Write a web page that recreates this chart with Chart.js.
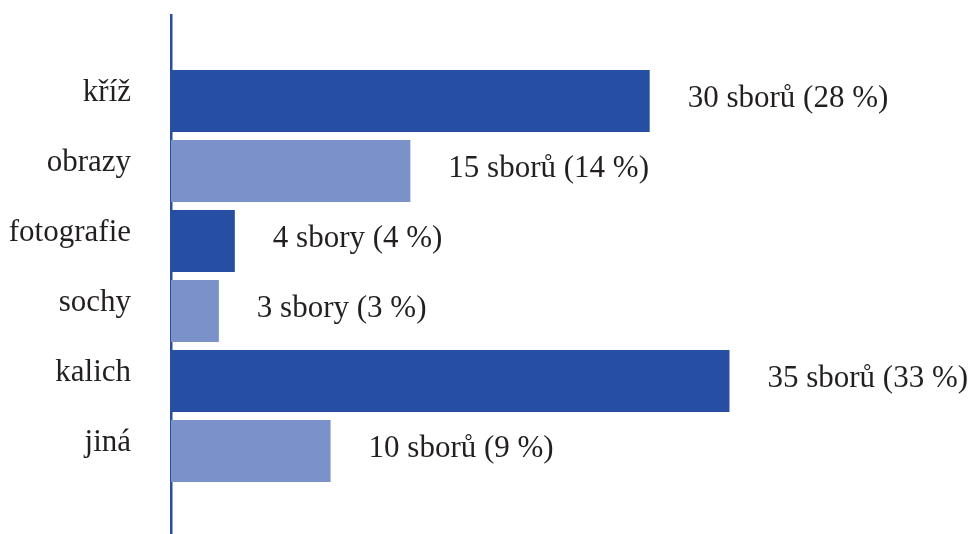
<!DOCTYPE html>
<html><head><meta charset="utf-8">
<script src="https://cdn.jsdelivr.net/npm/chart.js@4/dist/chart.umd.min.js"></script>
<style>html,body{margin:0;padding:0;background:#fff}#wrap{position:relative;width:972px;height:534px}</style>
</head><body><div id="wrap"><canvas id="c"></canvas></div>
<script>
const categories = ['kříž', 'obrazy', 'fotografie', 'sochy', 'kalich', 'jiná'];
const counts = [30, 15, 4, 3, 35, 10];
const valueLabels = ['30 sborů (28 %)', '15 sborů (14 %)', '4 sbory (4 %)', '3 sbory (3 %)', '35 sborů (33 %)', '10 sborů (9 %)'];
const colors = ['#264ea2', '#7a91c9', '#264ea2', '#7a91c9', '#264ea2', '#7a91c9'];

const FONT = '"Liberation Serif", "DejaVu Serif", serif';
const FS = 31;
const TXT = '#231f20';

const labelPlugin = {
  id: 'valueLabels',
  afterDatasetsDraw(chart) {
    const ctx = chart.ctx;
    const meta = chart.getDatasetMeta(0);
    ctx.save();
    ctx.font = FS + 'px ' + FONT;
    ctx.fillStyle = TXT;
    ctx.textAlign = 'left';
    ctx.textBaseline = 'alphabetic';
    meta.data.forEach((bar, i) => {
      ctx.fillText(valueLabels[i], bar.x + 38, bar.y + 6);
    });
    ctx.restore();
  }
};

new Chart(document.getElementById('c'), {
  type: 'bar',
  data: {
    datasets: [{
      data: counts.map((v, i) => ({x: v, y: i})),
      backgroundColor: colors,
      borderWidth: 0,
      barPercentage: 62/70,
      categoryPercentage: 1
    }]
  },
  options: {
    indexAxis: 'y',
    responsive: true,
    maintainAspectRatio: false,
    animation: false,
    layout: {padding: {top: 15, bottom: 0, left: 0, right: 0}},
    plugins: {legend: {display: false}, tooltip: {enabled: false}},
    scales: {
      x: {
        type: 'linear', display: false, min: 0, max: 50.2
      },
      y: {
        type: 'linear', reverse: true, offset: false, min: -1.229, max: 6.186,
        grid: {display: false, drawTicks: false},
        border: {display: true, color: '#2a4f9f', width: 2.5},
        afterFit(scale) { scale.width = 171; scale.paddingTop = 0; scale.paddingBottom = 0; },
        ticks: {
          stepSize: 1, autoSkip: false, includeBounds: false, padding: 40,
          color: TXT,
          font: {family: FONT, size: FS, lineHeight: '16px'},
          callback(v) { return Number.isInteger(v) && categories[v] !== undefined ? [categories[v], ''] : ''; }
        }
      }
    }
  },
  plugins: [labelPlugin]
});
</script></body></html>
